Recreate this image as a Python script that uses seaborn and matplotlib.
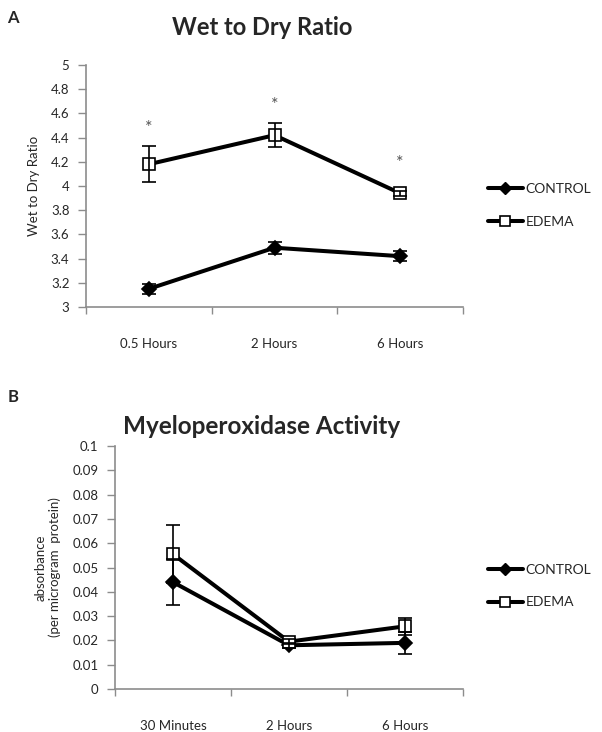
import numpy as np
import pandas as pd
import matplotlib
matplotlib.use('Agg')
import matplotlib.pyplot as plt
import seaborn as sns
from matplotlib.ticker import FuncFormatter, MultipleLocator

# 데이터
groups = ['CONTROL', 'EDEMA']

wd_times = ['0.5 Hours', '2 Hours', '6 Hours']
wd_control = [3.15, 3.49, 3.42]
wd_control_err = [0.04, 0.05, 0.04]
wd_edema = [4.18, 4.42, 3.94]
wd_edema_err = [0.15, 0.10, 0.02]
wd_star_y = [4.41, 4.60, 4.12]

mpo_times = ['30 Minutes', '2 Hours', '6 Hours']
mpo_control = [0.044, 0.018, 0.019]
mpo_control_err = [0.0095, 0.001, 0.0045]
mpo_edema = [0.0555, 0.0195, 0.0258]
mpo_edema_err = [0.012, 0.001, 0.0035]

sns.set_style('white')
plt.rcParams['font.family'] = ['Lato', 'DejaVu Sans']
plt.rcParams['font.size'] = 9

markers = {'CONTROL': 'D', 'EDEMA': 's'}
gray = '#8c8c8c'


def draw_panel(ax, times, control, control_err, edema, edema_err, leg_y):
    df = pd.DataFrame({
        'time': list(range(len(times))) * 2,
        'value': control + edema,
        'err': control_err + edema_err,
        'group': ['CONTROL'] * len(times) + ['EDEMA'] * len(times),
    })
    sns.lineplot(data=df, x='time', y='value', style='group', hue='group',
                 palette={'CONTROL': 'black', 'EDEMA': 'black'},
                 markers=markers, dashes=False, linewidth=2.9,
                 markersize=7, markeredgewidth=1.2, ax=ax, legend=False, zorder=3)
    for ln, g in zip(ax.get_lines(), groups):
        if g == 'EDEMA':
            ln.set_markerfacecolor('white')
            ln.set_markersize(8.5)
        ln.set_markeredgecolor('black')
    for g in groups:
        d = df[df['group'] == g]
        ax.errorbar(d['time'], d['value'], yerr=d['err'], fmt='none',
                    ecolor='black', elinewidth=1.2, capsize=5, capthick=1.2, zorder=4)

    ax.set_xlim(-0.5, len(times) - 0.5)
    ax.set_xticks(range(len(times)))
    ax.set_xticklabels(times)
    ax.set_xticks(np.arange(-0.5, len(times), 1.0), minor=True)
    ax.tick_params(axis='x', which='major', length=0, pad=22, labelsize=9.5)
    ax.tick_params(axis='x', which='minor', length=5, color=gray, width=1, direction='out', bottom=True)
    ax.tick_params(axis='y', length=6, color=gray, width=1, direction='out', left=True, labelsize=9.5, pad=6)
    ax.set_xlabel('')
    sns.despine(ax=ax)
    for s in ['left', 'bottom']:
        ax.spines[s].set_color(gray)
        ax.spines[s].set_linewidth(1.2)

    # 범례
    h = [plt.Line2D([], [], color='black', lw=2.9, marker='D', markersize=6),
         plt.Line2D([], [], color='black', lw=2.9, marker='s', markersize=7,
                    markerfacecolor='white', markeredgecolor='black', markeredgewidth=1.2)]
    ax.legend(h, groups, loc='center left', bbox_to_anchor=leg_y,
              frameon=False, handlelength=2.5, labelspacing=1.5, fontsize=10,
              handletextpad=0.2, borderaxespad=0, borderpad=0)


fig = plt.figure(figsize=(6.02, 7.32), dpi=100)

# A: Wet to Dry Ratio
ax1 = fig.add_axes([0.143, 0.5806, 0.626, 0.3306])
draw_panel(ax1, wd_times, wd_control, wd_control_err, wd_edema, wd_edema_err, (1.066, 0.42))
ax1.set_ylim(3, 5)
ax1.yaxis.set_major_locator(MultipleLocator(0.2))
ax1.yaxis.set_major_formatter(FuncFormatter(lambda v, p: '%g' % round(v, 2)))
ax1.set_ylabel('Wet to Dry Ratio', fontsize=9.5, labelpad=8)
for i, y in enumerate(wd_star_y):
    ax1.text(i, y, '*', ha='center', va='bottom', fontsize=13, color='#555555')

# B: Myeloperoxidase Activity
ax2 = fig.add_axes([0.191, 0.0587, 0.578, 0.332])
draw_panel(ax2, mpo_times, mpo_control, mpo_control_err, mpo_edema, mpo_edema_err, (1.072, 0.424))
ax2.set_ylim(0, 0.1)
ax2.yaxis.set_major_locator(MultipleLocator(0.01))
ax2.yaxis.set_major_formatter(FuncFormatter(lambda v, p: '%g' % round(v, 3)))
ax2.set_ylabel('absorbance\n(per microgram  protein)', fontsize=9.5, labelpad=8)

fig.text(0.435, 0.963, 'Wet to Dry Ratio', ha='center', va='center', fontsize=17, fontweight='bold')
fig.text(0.434, 0.417, 'Myeloperoxidase Activity', ha='center', va='center', fontsize=17.5, fontweight='bold')
fig.text(0.012, 0.975, 'A', ha='left', va='center', fontsize=12, fontweight='bold')
fig.text(0.012, 0.458, 'B', ha='left', va='center', fontsize=12, fontweight='bold')

fig.savefig('out.png', dpi=100)
